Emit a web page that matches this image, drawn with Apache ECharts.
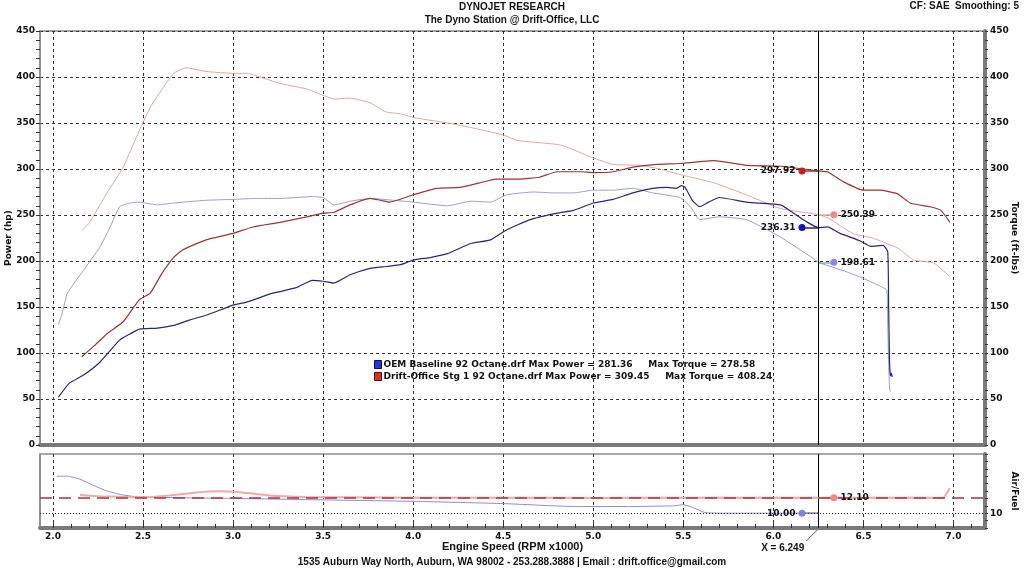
<!DOCTYPE html>
<html>
<head>
<meta charset="utf-8">
<title>Dyno chart</title>
<script src="https://cdn.jsdelivr.net/npm/echarts@6.0.0/dist/echarts.min.js"></script>
<style>
  html, body { margin: 0; padding: 0; background: #fff; }
  #chart { width: 1024px; height: 570px; }
</style>
</head>
<body>
<div id="chart"></div>
<script>
// rpm axis (x1000)
var rpmTicks = [2.0, 2.5, 3.0, 3.5, 4.0, 4.5, 5.0, 5.5, 6.0, 6.5, 7.0];
var rpmMinorTicks = [];
for (var t = 20; t <= 71; t++) rpmMinorTicks.push(t / 10);

var runNames = ['OEM Baseline 92 Octane.drf', 'Drift-Office Stg 1 92 Octane.drf'];
var maxPower = [281.36, 309.45];
var maxTorque = [278.58, 408.24];

// cursor readout
var cursorRpm = 6.249;
var cursorPower = [236.31, 297.92];
var cursorTorque = [198.61, 250.39];
var cursorAfr = [10.00, 12.10];

// [rpm x1000, hp]
var oemPower = [[2.03,52],[2.09,67],[2.17,76],[2.26,90],[2.37,114],[2.43,121],[2.48,126],[2.58,127],[2.67,130],
  [2.76,136],[2.85,141],[3.0,152],[3.07,155],[3.22,165],[3.35,171],[3.44,179],[3.5,178],[3.56,176],[3.65,185],
  [3.76,192],[3.85,194],[3.93,196],[4.0,201],[4.1,204],[4.19,208],[4.32,219],[4.43,223],[4.52,234],[4.65,245],
  [4.8,252],[4.89,255],[5.0,263],[5.11,267],[5.22,274],[5.33,279],[5.41,280],[5.46,279],[5.49,282],[5.51,280],
  [5.55,266],[5.59,259],[5.64,264],[5.7,269],[5.85,264],[6.04,261],[6.09,255],[6.19,242],[6.25,236.3],[6.3,237],
  [6.37,230],[6.48,222],[6.54,216],[6.61,217],[6.635,210],[6.64,150],[6.645,90],[6.65,75],[6.655,78],[6.66,74]];

// [rpm x1000, ft-lbs]
var oemTorque = [[2.03,131],[2.05,142],[2.08,165],[2.17,190],[2.26,215],[2.32,238],[2.37,259],[2.43,263],[2.48,264],
  [2.58,261],[2.67,263],[2.85,266],[3.0,267],[3.13,268],[3.26,268],[3.44,270],[3.5,269],[3.56,261],[3.65,265],
  [3.76,268],[3.89,266],[4.0,264],[4.19,260],[4.32,265],[4.43,264],[4.52,272],[4.67,275],[4.78,274],[4.89,274],
  [5.0,277],[5.11,277],[5.22,279],[5.33,274],[5.48,269],[5.54,259],[5.59,245],[5.7,248],[5.85,245],[6.04,226],
  [6.22,203],[6.25,198.6],[6.41,188],[6.5,181],[6.6,172],[6.63,168],[6.635,130],[6.64,90],[6.645,62],[6.65,58]];

var stg1Power = [[2.16,96],[2.23,108],[2.3,121],[2.39,134],[2.48,158],[2.54,165],[2.6,185],[2.67,204],[2.72,212],
  [2.85,223],[3.0,230],[3.11,237],[3.26,242],[3.41,248],[3.5,252],[3.56,253],[3.65,261],[3.76,268],[3.82,266],
  [3.87,264],[4.0,272],[4.13,279],[4.26,280],[4.37,285],[4.46,289],[4.59,289],[4.7,291],[4.8,297],[4.93,297],
  [5.0,296],[5.11,297],[5.22,302],[5.35,305],[5.48,306],[5.67,309],[5.85,304],[6.04,303],[6.25,297.9],[6.3,297],
  [6.39,286],[6.5,277],[6.59,277],[6.69,273],[6.76,263],[6.87,259],[6.93,255],[6.98,242]];

var stg1Torque = [[2.16,233],[2.2,241],[2.3,274],[2.39,302],[2.48,342],[2.54,367],[2.6,385],[2.67,404],[2.74,410],
  [2.85,406],[3.0,404],[3.08,404],[3.15,400],[3.26,393],[3.41,387],[3.5,380],[3.56,376],[3.65,377],[3.76,372],
  [3.85,362],[3.93,360],[4.0,356],[4.25,348],[4.5,337],[4.58,331],[4.82,326],[5.0,312],[5.11,305],[5.26,304],
  [5.37,300],[5.48,294],[5.67,285],[5.85,272],[6.04,257],[6.25,250.4],[6.31,246],[6.44,230],[6.55,225],
  [6.69,214],[6.78,201],[6.89,198],[6.98,183]];

// [rpm x1000, air/fuel]
var oemAfr = [[2.02,15.0],[2.08,15.0],[2.15,14.6],[2.22,13.8],[2.3,13.0],[2.38,12.5],[2.47,12.2],[2.7,12.1],
  [3.0,12.0],[3.5,11.8],[4.0,11.6],[4.5,11.3],[4.9,10.9],[5.2,10.9],[5.45,11.0],[5.5,11.15],[5.55,10.8],
  [5.62,10.1],[5.7,10.0],[6.25,10.0]];
var stg1Afr = [[2.15,12.45],[2.25,12.3],[2.4,12.2],[2.5,12.15],[2.65,12.4],[2.8,12.8],[2.92,12.95],[3.05,12.8],
  [3.2,12.4],[3.4,12.2],[3.6,12.15],[4.0,12.1],[4.5,12.1],[5.0,12.05],[5.5,12.1],[6.0,12.1],[6.5,12.1],
  [6.8,12.1],[6.94,12.05],[6.98,13.4]];
var afrTarget = 12.1;

var FONT = 'DejaVu Sans';
var TFONT = 'Liberation Sans';
var frameThin = '#8c8c8c';
var frameThick = '#7a7a7a';
var gridDash = { color: '#333', width: 1, type: [3, 3] };

// dot + short leader line off the cursor, like the dyno software readout
function readout(value, side, dotColor, leaderColor) {
  var dotRpm = side === 'left' ? cursorRpm - 0.09 : cursorRpm + 0.087;
  return {
    point: {
      symbol: 'circle', symbolSize: 7, silent: true,
      itemStyle: { color: dotColor },
      label: {
        show: true, position: side, distance: 3,
        formatter: function (p) { return p.value.toFixed(2); },
        color: '#111', fontFamily: FONT, fontWeight: 'bold', fontSize: 9
      },
      data: [{ coord: [dotRpm, value], value: value }]
    },
    leader: [{ coord: [cursorRpm, value], lineStyle: { color: leaderColor, width: 1.5, type: 'solid' } }, { coord: [dotRpm, value] }]
  };
}

function lineSeries(name, data, color, width, xi, yi, marks, extraLines) {
  var lines = [marks.leader].concat(extraLines || []);
  return {
    name: name, type: 'line', data: data, xAxisIndex: xi, yAxisIndex: yi,
    showSymbol: false, symbol: 'none', smooth: 0.15,
    lineStyle: { color: color, width: width }, itemStyle: { color: color },
    markPoint: marks.point,
    markLine: { silent: true, symbol: ['none', 'none'], label: { show: false }, lineStyle: { type: 'solid' }, data: lines },
    z: 3
  };
}

var cursorLine = { xAxis: cursorRpm, lineStyle: { color: '#000', width: 1, type: 'solid' } };
var axisNameStyle = { fontFamily: FONT, fontWeight: 'bold', fontSize: 9, color: '#111' };

var option = {
  animation: false,
  backgroundColor: '#fff',
  title: [
    {
      text: 'DYNOJET RESEARCH', subtext: 'The Dyno Station @ Drift-Office, LLC',
      left: 'center', top: 0, padding: [2, 5], itemGap: 3,
      textStyle: { fontFamily: TFONT, fontWeight: 'bold', fontSize: 10, color: '#111' },
      subtextStyle: { fontFamily: TFONT, fontWeight: 'bold', fontSize: 10, color: '#111' }
    },
    {
      text: 'CF: SAE  Smoothing: 5', right: 3, top: 0, padding: [1, 2],
      textStyle: { fontFamily: TFONT, fontWeight: 'bold', fontSize: 10, color: '#111' }
    },
    {
      text: '1535 Auburn Way North, Auburn, WA 98002 - 253.288.3888 | Email : drift.office@gmail.com',
      left: 'center', top: 557, padding: 0,
      textStyle: { fontFamily: TFONT, fontWeight: 'bold', fontSize: 10, color: '#111' }
    }
  ],
  legend: {
    orient: 'vertical', left: 369, top: 355, itemWidth: 7, itemHeight: 8, itemGap: 3,
    selectedMode: false,
    data: [
      { name: runNames[0], icon: 'rect', itemStyle: { color: '#1f3ad8', borderColor: '#0b0b5a', borderWidth: 1 } },
      { name: runNames[1], icon: 'rect', itemStyle: { color: '#d83030', borderColor: '#5a0b0b', borderWidth: 1 } }
    ],
    formatter: function (name) {
      var i = runNames.indexOf(name);
      return name + ' Max Power = ' + maxPower[i].toFixed(2) + '     Max Torque = ' + maxTorque[i].toFixed(2);
    },
    textStyle: { fontFamily: FONT, fontWeight: 'bold', fontSize: 9, color: '#111', padding: [0, 0, 0, -3] }
  },
  grid: [
    { left: 40, top: 31, right: 39, height: 414, outerBoundsMode: 'none', containLabel: false,
      show: true, borderColor: frameThin, borderWidth: 1.5, backgroundColor: '#fff' },
    { left: 40, top: 454, right: 39, height: 74, outerBoundsMode: 'none', containLabel: false,
      show: true, borderColor: frameThin, borderWidth: 1.5, backgroundColor: '#fff' }
  ],
  xAxis: [
    {
      type: 'value', gridIndex: 0, min: 1.928, max: 7.175,
      axisLine: { show: true, onZero: false, lineStyle: { color: frameThick, width: 4 } },
      axisTick: { show: false, customValues: rpmTicks },
      axisLabel: { show: false, customValues: rpmTicks },
      splitLine: { show: true, lineStyle: gridDash }
    },
    {
      type: 'value', gridIndex: 1, min: 1.928, max: 7.175,
      name: 'Engine Speed (RPM x1000)', nameLocation: 'middle', nameGap: 12,
      nameTextStyle: { fontFamily: TFONT, fontWeight: 'bold', fontSize: 11, color: '#111' },
      axisLine: { show: true, onZero: false, lineStyle: { color: frameThick, width: 4 } },
      axisTick: { show: true, inside: true, length: 6, customValues: rpmTicks, lineStyle: { color: '#333' } },
      axisLabel: {
        customValues: rpmTicks, margin: 4,
        formatter: function (v) { return v.toFixed(1); },
        fontFamily: FONT, fontWeight: 'bold', fontSize: 9, color: '#111'
      },
      splitLine: { show: true, lineStyle: gridDash }
    },
    {
      type: 'value', gridIndex: 1, min: 1.928, max: 7.175, position: 'bottom',
      axisLine: { show: false },
      axisTick: { show: true, inside: true, length: 4, customValues: rpmMinorTicks, lineStyle: { color: '#333' } },
      axisLabel: { show: false, customValues: rpmMinorTicks },
      splitLine: { show: false }
    }
  ],
  yAxis: [
    {
      type: 'value', gridIndex: 0, position: 'left', min: 0, max: 450, interval: 50,
      name: 'Power (hp)', nameLocation: 'middle', nameGap: 27, nameMoveOverlap: false,
      nameTextStyle: axisNameStyle,
      axisLine: { show: true, lineStyle: { color: frameThin, width: 1.5 } },
      axisTick: { show: true, length: 4, lineStyle: { color: '#333' } },
      minorTick: { show: true, splitNumber: 5, length: 4, lineStyle: { color: '#333' } },
      axisLabel: { margin: 5, fontFamily: FONT, fontWeight: 'bold', fontSize: 9, color: '#111' },
      splitLine: { show: true, lineStyle: gridDash }
    },
    {
      type: 'value', gridIndex: 0, position: 'right', min: 0, max: 450, interval: 50,
      name: 'Torque (ft-lbs)', nameLocation: 'middle', nameGap: 25, nameRotate: -90, nameMoveOverlap: false,
      nameTextStyle: axisNameStyle,
      axisLine: { show: true, lineStyle: { color: frameThick, width: 4 } },
      axisTick: { show: true, length: 3, lineStyle: { color: '#333' } },
      minorTick: { show: true, splitNumber: 5, length: 3, lineStyle: { color: '#333' } },
      axisLabel: { margin: 5, fontFamily: FONT, fontWeight: 'bold', fontSize: 9, color: '#111' },
      splitLine: { show: false }
    },
    {
      type: 'value', gridIndex: 1, position: 'left', min: 8, max: 18, interval: 1,
      axisLine: { show: true, lineStyle: { color: frameThin, width: 1.5 } },
      axisTick: { show: false }, axisLabel: { show: false }, splitLine: { show: false }
    },
    {
      type: 'value', gridIndex: 1, position: 'right', min: 8, max: 18, interval: 1,
      name: 'Air/Fuel', nameLocation: 'middle', nameGap: 25, nameRotate: -90, nameMoveOverlap: false,
      nameTextStyle: axisNameStyle,
      axisLine: { show: true, lineStyle: { color: frameThick, width: 4 } },
      axisTick: { show: true, length: 3, lineStyle: { color: '#333' } },
      axisLabel: {
        margin: 5, fontFamily: FONT, fontWeight: 'bold', fontSize: 9, color: '#111',
        formatter: function (v) { return v === 10 ? '10' : ''; }
      },
      splitLine: { show: false }
    }
  ],
  series: [
    lineSeries(runNames[0] + ' Torque', oemTorque, '#9d9dd6', 1, 0, 1,
      readout(cursorTorque[0], 'right', '#8888e0', '#9d9dd6')),
    lineSeries(runNames[1] + ' Torque', stg1Torque, '#e6a4a4', 1, 0, 1,
      readout(cursorTorque[1], 'right', '#f08a8a', '#e6a4a4')),
    lineSeries(runNames[0], oemPower, '#27277e', 1.2, 0, 0,
      readout(cursorPower[0], 'left', '#1414b8', '#27277e'), [cursorLine]),
    lineSeries(runNames[1], stg1Power, '#9c3535', 1.2, 0, 0,
      readout(cursorPower[1], 'left', '#c81e1e', '#9c3535')),
    lineSeries(runNames[0] + ' AFR', oemAfr, '#8c8cd6', 1, 1, 3,
      readout(cursorAfr[0], 'left', '#8080e0', '#8c8cd6'),
      [cursorLine, { yAxis: 10, lineStyle: { color: '#222', width: 1, type: [1, 2] } }]),
    lineSeries(runNames[1] + ' AFR', stg1Afr, '#f0a8a8', 2, 1, 3,
      readout(cursorAfr[1], 'right', '#f08a8a', '#f0a8a8'),
      [{ yAxis: afrTarget, lineStyle: { color: '#b3303a', width: 1.5, type: [12, 7] } }])
  ]
};

var chart = echarts.init(document.getElementById('chart'), null, { renderer: 'canvas' });
chart.setOption(option);

var cx = chart.convertToPixel({ xAxisIndex: 1 }, cursorRpm);
chart.setOption({
  graphic: [
    { type: 'line', silent: true, shape: { x1: cx, y1: 529, x2: cx - 12, y2: 541 }, style: { stroke: '#666', lineWidth: 1 } },
    {
      type: 'text', silent: true, x: cx - 14, y: 548,
      style: { text: 'X = ' + cursorRpm.toFixed(3), align: 'right', verticalAlign: 'middle', font: 'bold 10px "Liberation Sans"', fill: '#111' }
    }
  ]
});
</script>
</body>
</html>
